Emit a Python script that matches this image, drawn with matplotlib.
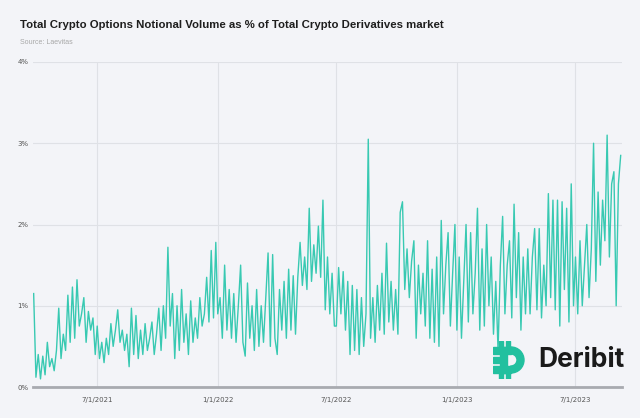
import numpy as np
import pandas as pd
import matplotlib
matplotlib.use("Agg")
import matplotlib.pyplot as plt
import matplotlib.dates as mdates
from matplotlib.patches import Rectangle, Wedge

# options volume as % of derivatives volume (~half-week steps)
pct_2021a = [1.15, 0.12, 0.40, 0.10, 0.38, 0.15, 0.55, 0.25, 0.35, 0.20, 0.45, 0.97, 0.35, 0.65,
             0.45, 1.13, 0.55, 1.23, 0.60, 1.32, 0.75, 0.90, 1.10, 0.55, 0.93, 0.70, 0.85, 0.40]
pct_2021b = [0.75, 0.35, 0.55, 0.30, 0.60, 0.40, 0.78, 0.50, 0.70, 0.95, 0.55, 0.70, 0.45, 0.65,
             0.25, 0.97, 0.40, 0.88, 0.35, 0.70, 0.40, 0.78, 0.45, 0.60, 0.80, 0.40, 0.65, 0.97,
             0.45, 1.00, 0.60, 1.72, 0.75, 1.15, 0.35, 1.00, 0.45, 1.20, 0.55, 0.90, 0.40, 1.06,
             0.55, 0.85, 0.60, 1.10, 0.75, 0.90, 1.35, 0.80, 1.68, 0.85, 1.78]
pct_2022a = [0.90, 1.10, 0.60, 1.50, 0.70, 1.20, 0.60, 1.15, 0.55, 1.00, 1.50, 0.55, 0.38, 1.28,
             0.60, 1.00, 0.45, 1.20, 0.50, 1.00, 0.55, 1.10, 1.65, 0.50, 1.63, 0.60, 0.40, 1.20,
             0.70, 1.30, 0.60, 1.45, 0.70, 1.37, 0.65, 1.35, 1.78, 1.25, 1.60, 1.20, 2.20, 1.30,
             1.75, 1.40, 1.98, 1.35, 2.30, 0.95, 1.60, 0.90, 1.40, 0.75]
pct_2022b = [0.75, 1.47, 0.90, 1.42, 0.70, 1.30, 0.40, 1.25, 0.45, 1.20, 0.40, 1.10, 0.50, 0.90,
             3.05, 0.60, 1.10, 0.55, 1.25, 0.70, 1.40, 0.65, 1.77, 0.80, 1.30, 0.70, 1.20, 0.65,
             2.15, 2.28, 1.20, 1.70, 1.10, 1.55, 1.80, 0.60, 1.50, 0.90, 1.40, 0.75, 1.80, 0.60,
             1.45, 0.55, 1.60, 0.50, 2.05, 0.90, 1.50, 1.90, 0.75, 1.40, 2.00]
pct_2023a = [0.70, 1.60, 0.60, 1.30, 2.00, 0.80, 1.90, 0.90, 1.40, 2.20, 0.70, 1.70, 0.75, 2.00,
             1.00, 1.60, 0.65, 1.30, 0.45, 1.50, 2.10, 0.90, 1.50, 1.80, 0.85, 2.25, 1.10, 1.90,
             0.70, 1.60, 0.90, 1.70, 0.90, 1.60, 1.95, 0.95, 1.95, 0.85, 1.50, 1.00, 2.38, 1.10,
             2.30, 0.95, 2.30, 0.75, 2.28, 1.20, 2.20, 0.80, 2.50, 1.00]
pct_2023b = [1.60, 0.90, 1.80, 1.00, 1.50, 2.00, 1.10, 1.70, 3.00, 1.30, 2.40, 1.50, 2.30, 1.80,
             3.10, 1.60, 2.50, 2.65, 1.00, 2.50, 2.85]

segments = [("2021-03-26", "2021-06-28", pct_2021a),
            ("2021-07-01", "2021-12-29", pct_2021b),
            ("2022-01-01", "2022-06-28", pct_2022a),
            ("2022-07-01", "2022-12-29", pct_2022b),
            ("2023-01-01", "2023-06-28", pct_2023a),
            ("2023-07-01", "2023-09-08", pct_2023b)]

dates = []
vals = []
for start, end, v in segments:
    dates.extend(pd.date_range(start, end, periods=len(v)))
    vals.extend(v)

tick_dates = ["2021-07-01", "2022-01-01", "2022-07-01", "2023-01-01", "2023-07-01"]
tick_labels = ["7/1/2021", "1/1/2022", "7/1/2022", "1/1/2023", "7/1/2023"]

bg = "#f3f4f8"
teal = "#38c9b2"

fig = plt.figure(figsize=(6.4, 4.18), dpi=100, facecolor=bg)
ax = fig.add_axes([33/640, 1-387/418, 589/640, 325/418], facecolor=bg)

ax.plot(dates, vals, color=teal, lw=1.0)

ax.set_ylim(0, 4)
ax.set_yticks([0, 1, 2, 3, 4])
ax.set_yticklabels(["0%", "1%", "2%", "3%", "4%"])
ax.set_xlim(pd.Timestamp("2021-03-25"), pd.Timestamp("2023-09-10"))
ax.set_xticks([mdates.date2num(pd.Timestamp(d)) for d in tick_dates])
ax.set_xticklabels(tick_labels)

ax.grid(True, color="#dfe1e6", lw=0.8)
ax.set_axisbelow(True)
for s in ["top", "right", "left"]:
    ax.spines[s].set_visible(False)
ax.spines["bottom"].set_color("#a8aab0")
ax.spines["bottom"].set_linewidth(2)
ax.tick_params(length=0, labelsize=5, colors="#555555")
ax.tick_params(axis="x", pad=7)
ax.tick_params(axis="y", pad=3)

fig.text(20/640, 1-25/418, "Total Crypto Options Notional Volume as % of Total Crypto Derivatives market",
         fontsize=8.2, fontweight="bold", family="Liberation Sans", color="#1e1e1e", va="center")
fig.text(20/640, 1-42/418, "Source: Laevitas", fontsize=5, family="Liberation Sans",
         color="#a8a8a8", va="center")

# Deribit logo
logo = "#22c09f"
lax = fig.add_axes([493/640, 1-379/418, 32/640, 38/418])
lax.set_xlim(0, 32)
lax.set_ylim(0, 38)
lax.axis("off")
lax.add_patch(Rectangle((0, 25), 18, 7, color=logo))
lax.add_patch(Rectangle((0, 6), 18, 7, color=logo))
lax.add_patch(Rectangle((7, 6), 7, 26, color=logo))
lax.add_patch(Rectangle((0, 16), 9, 6, color=logo))
lax.add_patch(Wedge((18, 19), 13, -90, 90, width=7, color=logo))
for x0 in (6, 13):
    lax.add_patch(Rectangle((x0, 32), 3.5, 6, color=logo))
    lax.add_patch(Rectangle((x0, 0), 3.5, 6, color=logo))

fig.text(538/640, 1-360/418, "Deribit", fontsize=19, fontweight="bold", family="Inter",
         color="#1a1a1a", va="center")

fig.savefig("out.png", dpi=100, facecolor=bg)
